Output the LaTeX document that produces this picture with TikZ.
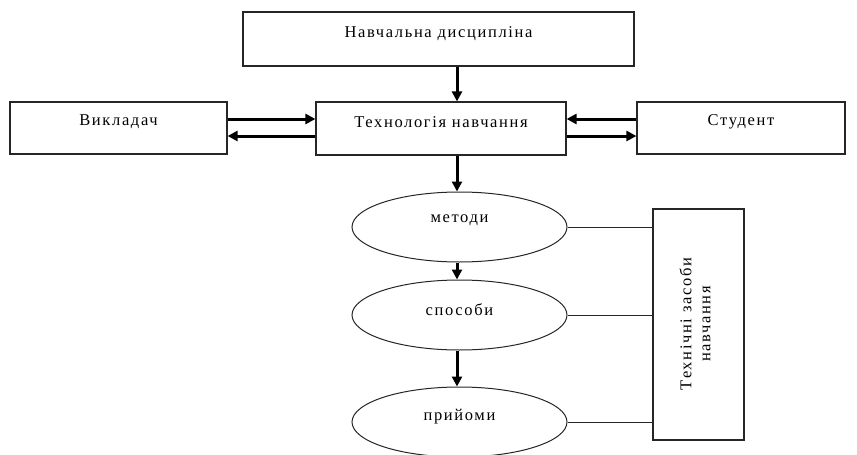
\documentclass[tikz,border=0pt]{standalone}
\usepackage{fontspec}
\setmainfont{Liberation Serif}[LetterSpace=10]
\usetikzlibrary{arrows.meta,shapes.geometric}
\tikzset{
  box/.style={draw=black!85, line width=1.2pt, rectangle, inner sep=0pt},
  oval/.style={draw=black!85, line width=1pt, ellipse, inner sep=0pt, minimum width=215pt, minimum height=70pt},
  txt/.style={inner sep=0pt, font=\fontsize{16.5}{19}\selectfont},
  thick arrow/.style={line width=3pt, -{Triangle[length=10pt,width=10pt]}},
  link/.style={line width=1pt, draw=black!85}
}
\begin{document}
\begin{tikzpicture}[x=1pt,y=-1pt]
\useasboundingbox (0,0) rectangle (857,455);
% boxes
\node[box, minimum width=391pt, minimum height=54pt] (disc) at (438.5,39) {};
\node[txt] (disclbl) at (438.5,34) {Навчальна дисципліна};
\node[box, minimum width=250pt, minimum height=53pt] (tech) at (441,128.5) {};
\node[txt] (techlbl) at (441,122.5) {Технологія навчання};
\node[box, minimum width=217pt, minimum height=52pt] (teach) at (118.5,128) {};
\node[txt] (teachlbl) at (118.5,121.5) {Викладач};
\node[box, minimum width=208pt, minimum height=52pt] (stud) at (741,128) {};
\node[txt] (studlbl) at (741,121.5) {Студент};
% ellipses
\node[oval] (met) at (459.5,227) {};
\node[txt] (metlbl) at (459.5,220.5) {методи};
\node[oval] (spos) at (459.5,315) {};
\node[txt] (sposlbl) at (459.5,309.5) {способи};
\node[oval] (pryi) at (459.5,422) {};
\node[txt] (pryilbl) at (459.5,416.5) {прийоми};
% technical means box
\node[box, minimum width=91pt, minimum height=231pt] (tsn) at (698.5,324.5) {};
\node[txt, rotate=90, align=center] (tsnlbl) at (695,324) {Технічні засоби\\навчання};
% arrows
\draw[thick arrow] (disc.south -| 457,0) -- (tech.north -| 457,0);
\draw[thick arrow] (teach.east |- 0,119) -- (tech.west |- 0,119);
\draw[thick arrow] (tech.west |- 0,136) -- (teach.east |- 0,136);
\draw[thick arrow] (stud.west |- 0,119) -- (tech.east |- 0,119);
\draw[thick arrow] (tech.east |- 0,136) -- (stud.west |- 0,136);
\draw[thick arrow] (tech.south -| 457,0) -- (met.north -| 457,0);
\draw[thick arrow] (met.south -| 457,0) -- (spos.north -| 457,0);
\draw[thick arrow] (spos.south -| 457,0) -- (pryi.north -| 457,0);
% links
\draw[link] (met.east) -- (tsn.west |- met.east);
\draw[link] (spos.east) -- (tsn.west |- spos.east);
\draw[link] (pryi.east) -- (tsn.west |- pryi.east);
\end{tikzpicture}
\end{document}
